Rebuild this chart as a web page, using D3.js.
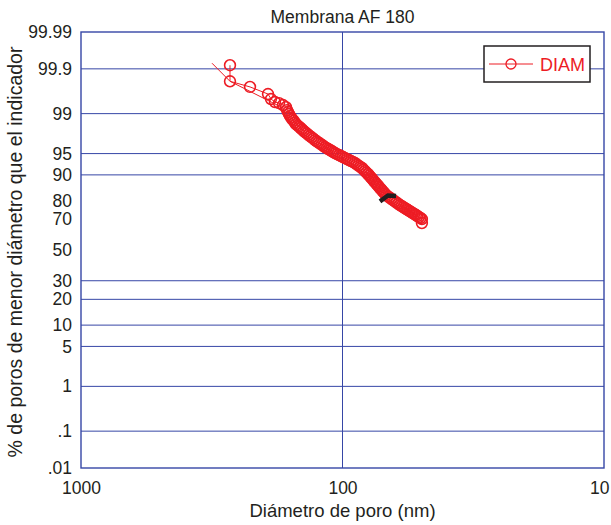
<!DOCTYPE html>
<html>
<head>
<meta charset="utf-8">
<script src="https://cdn.jsdelivr.net/npm/d3@7"></script>
<style>
body{margin:0;background:#fff}
text{font-family:Arial,"Liberation Sans",sans-serif;fill:#231f20}
</style>
</head>
<body>
<div id="chart"></div>
<script>
// diametro de poro (nm) y % acumulado, serie DIAM
var diametro = [269.3,269.3,225.8,192.7,187.7,181.2,174.9,168.9,164.5,
  163.0,161.6,160.2,158.8,157.1,155.5,153.8,152.2,150.6,148.6,146.7,144.7,142.8,141.0,139.1,
  137.1,135.1,133.1,131.2,129.3,127.4,125.5,123.8,121.9,120.1,118.4,116.7,114.9,113.3,111.6,
  110.0,108.4,106.8,105.0,103.1,101.3,99.6,97.8,96.1,94.4,92.8,91.2,89.6,88.2,86.9,85.5,84.2,
  83.1,82.0,81.0,79.9,79.1,78.2,77.4,76.6,75.8,75.0,74.2,73.4,72.7,71.9,71.1,70.4,69.6,68.9,
  68.2,67.1,66.1,65.1,64.1,63.1,62.2,61.2,60.3,59.4,58.6,57.8,57.0,56.2,55.4,54.6,53.9,53.1,
  52.4,51.7,51.0,50.3,49.7,49.7];
var porcentaje = [99.919,99.80,99.73,99.61,99.50,99.42,99.39,99.33,99.26,
  99.15,99.07,98.98,98.89,98.80,98.71,98.63,98.52,98.41,98.32,98.23,98.13,98.02,97.90,97.79,
  97.67,97.53,97.40,97.27,97.12,96.96,96.82,96.68,96.53,96.38,96.22,96.04,95.89,95.75,95.60,
  95.43,95.26,95.09,94.91,94.74,94.56,94.36,94.16,93.95,93.75,93.54,93.34,93.11,92.81,92.51,
  92.21,91.91,91.50,91.09,90.68,90.26,89.83,89.39,88.96,88.52,88.03,87.54,87.04,86.55,86.02,
  85.47,84.92,84.37,83.79,83.18,82.57,82.03,81.48,80.89,80.30,79.70,79.11,78.49,77.85,77.34,
  76.82,76.31,75.79,75.24,74.69,74.14,73.59,73.04,72.48,71.90,71.31,70.73,70.14,67.73];
// tramo de linea sin marcadores al inicio
var trazoDiam = [315.5,269.3,168.9];
var trazoPct = [99.928,99.80,99.23];
// marca negra
var marcaDiam = [71.9,67.0,62.4];
var marcaPct = [79.65,82.36,82.14];

var yTicks = [0.01,0.1,1,5,10,20,30,50,70,80,90,95,99,99.9,99.99];
var yTickLabels = [".01",".1","1","5","10","20","30","50","70","80","90","95","99","99.9","99.99"];
var yGrid = [0.1,1,5,10,20,30,90,95,99,99.9];
var xTicks = [1000,100,10];
var xTickLabels = ["1000","100","10"];
var xGrid = [100];

// inversa de la normal (Acklam)
function probit(p){
  var a=[-39.69683028665376,220.9460984245205,-275.9285104469687,138.3577518672690,-30.66479806614716,2.506628277459239];
  var b=[-54.47609879822406,161.5858368580409,-155.6989798598866,66.80131188771972,-13.28068155288572];
  var c=[-0.007784894002430293,-0.3223964580411365,-2.400758277161838,-2.549732539343734,4.374664141464968,2.938163982698783];
  var d=[0.007784695709041462,0.3224671290700398,2.445134137142996,3.754408661907416];
  var pl=0.02425,q,r;
  if(p<pl){q=Math.sqrt(-2*Math.log(p));
    return (((((c[0]*q+c[1])*q+c[2])*q+c[3])*q+c[4])*q+c[5])/((((d[0]*q+d[1])*q+d[2])*q+d[3])*q+1);}
  if(p>1-pl){q=Math.sqrt(-2*Math.log(1-p));
    return -(((((c[0]*q+c[1])*q+c[2])*q+c[3])*q+c[4])*q+c[5])/((((d[0]*q+d[1])*q+d[2])*q+d[3])*q+1);}
  q=p-0.5;r=q*q;
  return (((((a[0]*r+a[1])*r+a[2])*r+a[3])*r+a[4])*r+a[5])*q/(((((b[0]*r+b[1])*r+b[2])*r+b[3])*r+b[4])*r+1);
}

function init(){
  var w = 611, h = 525;
  var left = 81, right = 604, top = 32, bottom = 468;
  var red = "#ed1c24", blue = "#3646a6";

  var svg = d3.select("#chart").append("svg")
      .attr("width", w)
      .attr("height", h);

  // scales
  var xScale = d3.scaleLog().domain([1000,10]).range([left,right]);
  var zScale = d3.scaleLinear().domain([probit(0.0001),probit(0.9999)]).range([bottom,top]);
  var yScale = function(pct){ return zScale(probit(pct/100)); };

  // grid
  svg.selectAll(".gridY").data(yGrid).enter().append("line")
      .attr("class","gridY")
      .attr("x1",left).attr("x2",right)
      .attr("y1",d=>yScale(d)).attr("y2",d=>yScale(d))
      .attr("stroke",blue).attr("stroke-width",1);
  svg.selectAll(".gridX").data(xGrid).enter().append("line")
      .attr("class","gridX")
      .attr("x1",d=>xScale(d)).attr("x2",d=>xScale(d))
      .attr("y1",top).attr("y2",bottom)
      .attr("stroke",blue).attr("stroke-width",1);
  svg.append("rect")
      .attr("x",left).attr("y",top)
      .attr("width",right-left).attr("height",bottom-top)
      .attr("fill","none").attr("stroke",blue).attr("stroke-width",1.4);

  // axes (labels only)
  var yAxis = d3.axisLeft(zScale)
      .tickValues(yTicks.map(d=>probit(d/100)))
      .tickFormat((d,i)=>yTickLabels[i])
      .tickSize(0).tickPadding(9);
  var gy = svg.append("g").attr("transform","translate("+left+",0)").call(yAxis);
  gy.select(".domain").remove();
  gy.selectAll("text").attr("font-size","17.5px").attr("fill","#231f20")
      .style("font-family","Arial, 'Liberation Sans', sans-serif");

  var xAxis = d3.axisBottom(xScale)
      .tickValues(xTicks)
      .tickFormat((d,i)=>xTickLabels[i])
      .tickSize(0).tickPadding(14);
  var gx = svg.append("g").attr("transform","translate(0,"+bottom+")").call(xAxis);
  gx.select(".domain").remove();
  gx.selectAll("text").attr("font-size","17.5px").attr("fill","#231f20")
      .style("font-family","Arial, 'Liberation Sans', sans-serif");
  // last label kept inside the page
  gx.selectAll(".tick").filter(d=>d===10).select("text")
      .attr("text-anchor","end").attr("x",w-2-right);

  // titles
  svg.append("text").attr("x",(left+right)/2).attr("y",23)
      .attr("text-anchor","middle").attr("font-size","17.5px")
      .text("Membrana AF 180");
  svg.append("text").attr("x",(left+right)/2).attr("y",517)
      .attr("text-anchor","middle").attr("font-size","18.5px")
      .text("Diámetro de poro (nm)");
  svg.append("text")
      .attr("transform","translate(22,"+((top+bottom)/2+2)+") rotate(-90)")
      .attr("text-anchor","middle").attr("font-size","19.5px")
      .text("% de poros de menor diámetro que el indicador");

  // data
  var serie = diametro.map((d,i)=>[d,porcentaje[i]]);
  var trazo = trazoDiam.map((d,i)=>[d,trazoPct[i]]);
  var marca = marcaDiam.map((d,i)=>[d,marcaPct[i]]);
  var line = d3.line().x(d=>xScale(d[0])).y(d=>yScale(d[1]));

  svg.append("path").datum(trazo)
      .attr("d",line).attr("fill","none")
      .attr("stroke",red).attr("stroke-width",1);
  svg.append("path").datum(serie)
      .attr("d",line).attr("fill","none")
      .attr("stroke",red).attr("stroke-width",1);
  svg.selectAll(".punto").data(serie).enter().append("circle")
      .attr("class","punto")
      .attr("cx",d=>xScale(d[0])).attr("cy",d=>yScale(d[1]))
      .attr("r",5.4)
      .attr("fill","none").attr("stroke",red).attr("stroke-width",1.6);
  svg.append("path").datum(marca)
      .attr("d",line).attr("fill","none")
      .attr("stroke","#231f20").attr("stroke-width",4.5);

  // legend
  var lg = svg.append("g").attr("transform","translate(484,46)");
  lg.append("rect").attr("width",106).attr("height",36)
      .attr("fill","#fff").attr("stroke","#231f20").attr("stroke-width",1.5);
  lg.append("line").attr("x1",5).attr("x2",49).attr("y1",18).attr("y2",18)
      .attr("stroke",red).attr("stroke-width",1);
  lg.append("circle").attr("cx",27).attr("cy",18).attr("r",5)
      .attr("fill","none").attr("stroke",red).attr("stroke-width",1.3);
  lg.append("text").attr("x",56).attr("y",25).attr("font-size","18px")
      .style("fill",red).text("DIAM");
}
window.onload = init;
</script>
</body>
</html>
